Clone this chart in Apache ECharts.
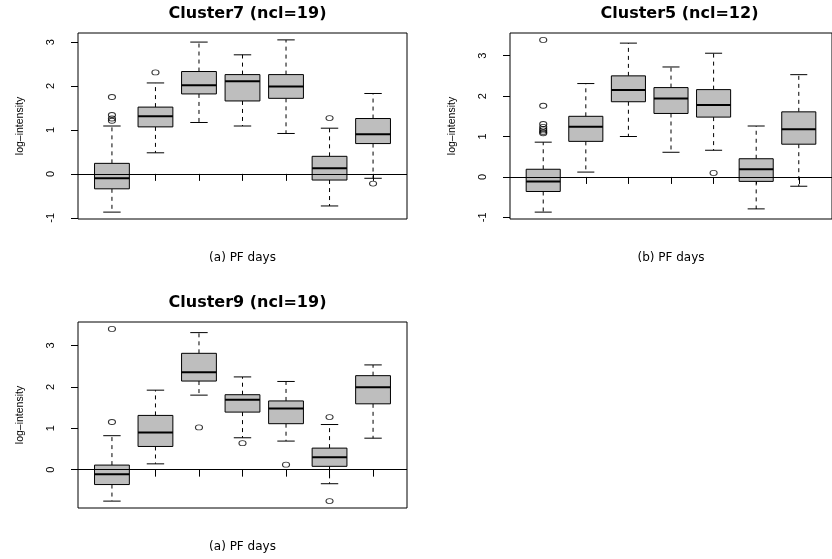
<!DOCTYPE html>
<html>

<head>
    <meta charset="utf-8">
    <script type="text/javascript" src="https://cdn.jsdelivr.net/npm/echarts@6/dist/echarts.min.js"></script>
    <title>Cluster boxplots</title>
</head>

<body style="margin:0;background:#fff;">
    <div id="container" style="width:832px;height:559px;"></div>
    <script type="text/javascript">
    // PF days (positions of the 7 boxes)
    var days = [1, 2, 3, 4, 5, 6, 7];
    var yTicks = [-1, 0, 1, 2, 3];

    // Cluster7 (ncl=19)
    var c7Low  = [-0.87, 0.48, 1.17, 1.09, 0.92, -0.73, -0.10];
    var c7Q1   = [-0.34, 1.07, 1.82, 1.66, 1.72, -0.14, 0.69];
    var c7Med  = [-0.10, 1.31, 2.02, 2.11, 1.99, 0.13, 0.90];
    var c7Q3   = [0.24, 1.52, 2.33, 2.26, 2.26, 0.40, 1.26];
    var c7High = [1.09, 2.07, 3.00, 2.71, 3.05, 1.04, 1.83];
    var c7Out  = [[1, 1.75], [1, 1.34], [1, 1.26], [1, 1.21], [2, 2.31], [6, 1.27], [7, -0.22]];

    // Cluster5 (ncl=12)
    var c5Low  = [-0.87, 0.12, 1.00, 0.61, 0.66, -0.79, -0.23];
    var c5Q1   = [-0.36, 0.88, 1.86, 1.57, 1.48, -0.11, 0.81];
    var c5Med  = [-0.11, 1.24, 2.15, 1.94, 1.78, 0.19, 1.18];
    var c5Q3   = [0.19, 1.50, 2.50, 2.21, 2.16, 0.45, 1.61];
    var c5High = [0.86, 2.31, 3.31, 2.72, 3.06, 1.26, 2.53];
    var c5Out  = [[1, 3.39], [1, 1.76], [1, 1.31], [1, 1.24], [1, 1.19], [1, 1.15], [1, 1.11], [1, 1.08], [5, 0.10]];

    // Cluster9 (ncl=19)
    var c9Low  = [-0.76, 0.14, 1.80, 0.77, 0.69, -0.34, 0.76];
    var c9Q1   = [-0.36, 0.56, 2.14, 1.39, 1.11, 0.08, 1.59];
    var c9Med  = [-0.11, 0.90, 2.35, 1.69, 1.48, 0.30, 1.99];
    var c9Q3   = [0.11, 1.31, 2.81, 1.81, 1.66, 0.52, 2.27];
    var c9High = [0.82, 1.92, 3.31, 2.24, 2.13, 1.09, 2.53];
    var c9Out  = [[1, 3.40], [1, 1.15], [3, 1.02], [4, 0.64], [5, 0.12], [6, 1.27], [6, -0.76]];

    var panels = [
        { title: 'Cluster7 (ncl=19)', xName: '(a) PF days', low: c7Low, q1: c7Q1, med: c7Med, q3: c7Q3, high: c7High, out: c7Out,
          grid: { left: 78, top: 33, width: 329, height: 186 } },
        { title: 'Cluster5 (ncl=12)', xName: '(b) PF days', low: c5Low, q1: c5Q1, med: c5Med, q3: c5Q3, high: c5High, out: c5Out,
          grid: { left: 510, top: 33, width: 329, height: 186 } },
        { title: 'Cluster9 (ncl=19)', xName: '(a) PF days', low: c9Low, q1: c9Q1, med: c9Med, q3: c9Q3, high: c9High, out: c9Out,
          grid: { left: 78, top: 322, width: 329, height: 186 } }
    ];

    var txt = '#000';

    // R style: range of data padded by 4% on each side
    function rLim(p) {
        var all = p.low.concat(p.high, p.out.map(function (o) { return o[1]; }));
        var lo = Math.min.apply(null, all), hi = Math.max.apply(null, all);
        var pad = (hi - lo) * 0.04;
        return [lo - pad, hi + pad];
    }

    // box + dashed whiskers + staples, drawn through the axes
    function renderBox(params, api) {
        var x = api.value(0);
        var pLo = api.coord([x, api.value(1)]);
        var pQ1 = api.coord([x, api.value(2)]);
        var pMed = api.coord([x, api.value(3)]);
        var pQ3 = api.coord([x, api.value(4)]);
        var pHi = api.coord([x, api.value(5)]);
        var unit = api.size([1, 0])[0];
        var hw = unit * 0.4, sw = unit * 0.2, cx = pLo[0];
        var solid = { stroke: '#000', lineWidth: 1, fill: null };
        var dash = { stroke: '#000', lineWidth: 1, lineDash: [4, 4], fill: null };
        return {
            type: 'group',
            children: [
                { type: 'line', shape: { x1: cx, y1: pQ3[1], x2: cx, y2: pHi[1] }, style: dash },
                { type: 'line', shape: { x1: cx, y1: pQ1[1], x2: cx, y2: pLo[1] }, style: dash },
                { type: 'line', shape: { x1: cx - sw, y1: pHi[1], x2: cx + sw, y2: pHi[1] }, style: solid },
                { type: 'line', shape: { x1: cx - sw, y1: pLo[1], x2: cx + sw, y2: pLo[1] }, style: solid },
                { type: 'rect', shape: { x: cx - hw, y: pQ3[1], width: hw * 2, height: pQ1[1] - pQ3[1] },
                  style: { fill: '#bebebe', stroke: '#000', lineWidth: 1 } },
                { type: 'line', shape: { x1: cx - hw, y1: pMed[1], x2: cx + hw, y2: pMed[1] },
                  style: { stroke: '#000', lineWidth: 2 } }
            ]
        };
    }

    var option = { animation: false, title: [], grid: [], xAxis: [], yAxis: [], series: [] };

    panels.forEach(function (p, i) {
        var lim = rLim(p);
        var ticks = yTicks.filter(function (v) { return v >= lim[0] && v <= lim[1]; });
        var g = p.grid;

        option.title.push({
            text: p.title, left: g.left + g.width / 2, top: g.top - 32, textAlign: 'center',
            textStyle: { fontFamily: 'DejaVu Sans', fontWeight: 'bold', fontSize: 16, color: txt }
        });
        option.grid.push({
            left: g.left, top: g.top, width: g.width, height: g.height,
            show: true, borderColor: '#000', borderWidth: 1, containLabel: false
        });
        option.xAxis.push({
            gridIndex: i, type: 'value', min: 0.22, max: 7.78,
            axisLine: { show: false },
            axisTick: { show: true, length: 7, customValues: days, lineStyle: { color: '#000' } },
            axisLabel: { show: false },
            splitLine: { show: false },
            name: p.xName, nameLocation: 'middle', nameGap: 33,
            nameTextStyle: { fontFamily: 'DejaVu Sans', fontSize: 12, color: txt }
        });
        option.yAxis.push({
            gridIndex: i, type: 'value', min: lim[0], max: lim[1],
            axisLine: { show: false },
            axisTick: { show: true, length: 7, customValues: ticks, lineStyle: { color: '#000' } },
            axisLabel: { customValues: ticks, rotate: 90, margin: 22, fontFamily: 'Liberation Sans', fontSize: 11, color: txt },
            splitLine: { show: false },
            name: 'log–intensity', nameLocation: 'middle', nameGap: 52,
            nameTextStyle: { fontFamily: 'Liberation Sans', fontSize: 10.5, color: txt }
        });
        option.series.push({
            type: 'custom', xAxisIndex: i, yAxisIndex: i,
            renderItem: renderBox,
            encode: { x: 0, y: [1, 2, 3, 4, 5] },
            data: days.map(function (d, k) { return [d, p.low[k], p.q1[k], p.med[k], p.q3[k], p.high[k]]; }),
            markLine: {
                silent: true, symbol: 'none', label: { show: false },
                lineStyle: { color: '#000', width: 1, type: 'solid' },
                data: [{ yAxis: 0 }]
            }
        });
        option.series.push({
            type: 'scatter', xAxisIndex: i, yAxisIndex: i,
            symbol: 'circle', symbolSize: [7, 5],
            itemStyle: { color: 'rgba(0,0,0,0)', borderColor: '#000', borderWidth: 1 },
            data: p.out
        });
    });

    var myChart = echarts.init(document.getElementById('container'));
    myChart.setOption(option);
    </script>
</body>

</html>
